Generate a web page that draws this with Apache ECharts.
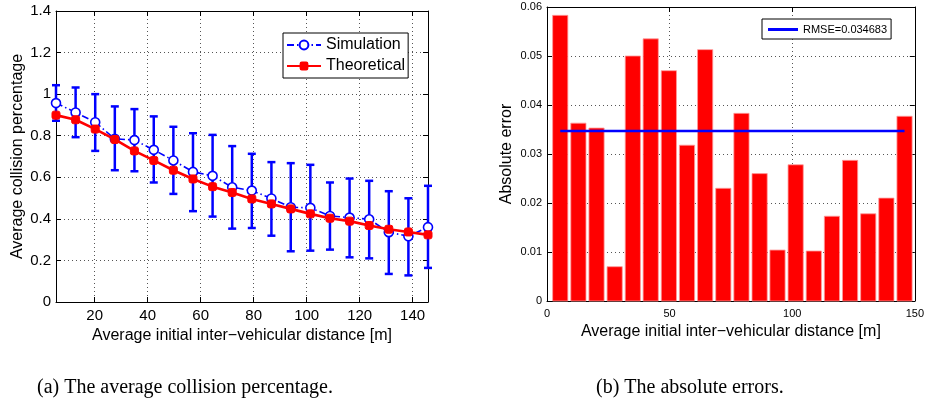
<!DOCTYPE html>
<html>
<head>
<meta charset="utf-8">
<script src="https://cdn.jsdelivr.net/npm/echarts@6/dist/echarts.min.js"></script>
<style>
html,body{margin:0;padding:0;background:#fff;}
#chart{width:927px;height:403px;}
</style>
</head>
<body>
<div id="chart"></div>
<script>
// ---- data ----
var distances = [5.4, 12.8, 20.2, 27.6, 35.0, 42.3, 49.7, 57.1, 64.5, 71.9, 79.3, 86.7, 94.0, 101.4, 108.8, 116.2, 123.6, 131.0, 138.4, 145.8];
var simMean = [0.957, 0.912, 0.865, 0.785, 0.779, 0.732, 0.681, 0.626, 0.607, 0.552, 0.536, 0.498, 0.456, 0.453, 0.414, 0.406, 0.398, 0.336, 0.316, 0.360];
var simUpper = [1.043, 1.032, 1.000, 0.941, 0.928, 0.893, 0.843, 0.812, 0.804, 0.750, 0.713, 0.673, 0.668, 0.660, 0.575, 0.594, 0.583, 0.533, 0.499, 0.559];
var simLower = [0.872, 0.793, 0.727, 0.634, 0.629, 0.575, 0.520, 0.437, 0.411, 0.353, 0.356, 0.319, 0.244, 0.247, 0.252, 0.215, 0.210, 0.135, 0.128, 0.164];
var theoretical = [0.899, 0.877, 0.832, 0.782, 0.727, 0.681, 0.634, 0.592, 0.555, 0.527, 0.496, 0.472, 0.448, 0.424, 0.403, 0.389, 0.368, 0.350, 0.337, 0.323];
var absError = [0.0583, 0.0363, 0.0353, 0.0070, 0.0500, 0.0535, 0.0470, 0.0318, 0.0513, 0.0230, 0.0383, 0.0260, 0.0104, 0.0278, 0.0102, 0.0173, 0.0287, 0.0178, 0.0210, 0.0377];
var rmse = 0.034683;
var leftXTicks = [20, 40, 60, 80, 100, 120, 140];
var captionA = '(a) The average collision percentage.';
var captionB = '(b) The absolute errors.';

// ---- build ----
var chart = echarts.init(document.getElementById('chart'), null, {renderer: 'canvas'});
var font = 'Liberation Sans, Arial, Helvetica, sans-serif';
var gridLine = {show: true, lineStyle: {type: [1, 3], color: '#555', width: 1}};

function pairs(xs, ys) { return xs.map(function (x, i) { return [x, ys[i]]; }); }

var errData = distances.map(function (x, i) { return [x, simLower[i], simUpper[i]]; });
var barData = pairs(distances, absError);
var barHalf = 3.1;
var xMin = distances[0], xMax = distances[distances.length - 1];

var option = {
  backgroundColor: '#fff',
  animation: false,
  grid: [
    {left: 56, right: 499, top: 11, bottom: 101},
    {left: 547, right: 9, top: 7, bottom: 102}
  ],
  xAxis: [
    {
      type: 'value', gridIndex: 0, min: xMin, max: xMax,
      axisLine: {show: true, onZero: false, lineStyle: {color: '#000', width: 1}},
      axisTick: {show: true, inside: true, length: 5, lineStyle: {color: '#000'}, customValues: leftXTicks},
      axisLabel: {color: '#000', fontFamily: font, fontSize: 15, margin: 6, customValues: leftXTicks},
      splitLine: gridLine,
      name: 'Average initial inter\u2212vehicular distance [m]', nameLocation: 'middle', nameGap: 21,
      nameTextStyle: {color: '#000', fontFamily: font, fontSize: 16}
    },
    {
      type: 'value', gridIndex: 1, min: 0, max: 150, interval: 50,
      axisLine: {show: true, onZero: false, lineStyle: {color: '#000', width: 1}},
      axisTick: {show: true, inside: true, length: 5, lineStyle: {color: '#000'}},
      axisLabel: {color: '#000', fontFamily: font, fontSize: 11, margin: 7},
      splitLine: gridLine,
      name: 'Average initial inter\u2212vehicular distance [m]', nameLocation: 'middle', nameGap: 16,
      nameTextStyle: {color: '#000', fontFamily: font, fontSize: 16}
    },
    {
      type: 'value', gridIndex: 0, position: 'top', min: xMin, max: xMax,
      axisLine: {show: true, onZero: false, lineStyle: {color: '#000', width: 1}},
      axisTick: {show: true, inside: true, length: 5, lineStyle: {color: '#000'}, customValues: leftXTicks},
      axisLabel: {show: false}, splitLine: {show: false}
    },
    {
      type: 'value', gridIndex: 1, position: 'top', min: 0, max: 150, interval: 50,
      axisLine: {show: true, onZero: false, lineStyle: {color: '#000', width: 1}},
      axisTick: {show: true, inside: true, length: 5, lineStyle: {color: '#000'}},
      axisLabel: {show: false}, splitLine: {show: false}
    }
  ],
  yAxis: [
    {
      type: 'value', gridIndex: 0, min: 0, max: 1.4, interval: 0.2,
      axisLine: {show: true, onZero: false, lineStyle: {color: '#000', width: 1}},
      axisTick: {show: true, inside: true, length: 5, lineStyle: {color: '#000'}},
      axisLabel: {color: '#000', fontFamily: font, fontSize: 15, margin: 5,
        formatter: function (v) { return String(Math.round(v * 10) / 10); }},
      splitLine: gridLine,
      name: 'Average collision percentage', nameLocation: 'middle', nameGap: 30, nameRotate: 90,
      nameTextStyle: {color: '#000', fontFamily: font, fontSize: 16}
    },
    {
      type: 'value', gridIndex: 1, min: 0, max: 0.06, interval: 0.01,
      axisLine: {show: true, onZero: false, lineStyle: {color: '#000', width: 1}},
      axisTick: {show: true, inside: true, length: 5, lineStyle: {color: '#000'}},
      axisLabel: {color: '#000', fontFamily: font, fontSize: 11, margin: 5,
        formatter: function (v) { return v === 0 ? '0' : v.toFixed(2); }},
      splitLine: gridLine,
      name: 'Absolute error', nameLocation: 'middle', nameGap: 32, nameRotate: 90,
      nameTextStyle: {color: '#000', fontFamily: font, fontSize: 16}
    },
    {
      type: 'value', gridIndex: 0, position: 'right', min: 0, max: 1.4, interval: 0.2,
      axisLine: {show: true, onZero: false, lineStyle: {color: '#000', width: 1}},
      axisTick: {show: true, inside: true, length: 5, lineStyle: {color: '#000'}},
      axisLabel: {show: false}, splitLine: {show: false}
    },
    {
      type: 'value', gridIndex: 1, position: 'right', min: 0, max: 0.06, interval: 0.01,
      axisLine: {show: true, onZero: false, lineStyle: {color: '#000', width: 1}},
      axisTick: {show: true, inside: true, length: 5, lineStyle: {color: '#000'}},
      axisLabel: {show: false}, splitLine: {show: false}
    }
  ],
  legend: [
    {
      data: ['Simulation', 'Theoretical'],
      left: 283, top: 33,
      orient: 'vertical', itemGap: 5, itemWidth: 34, itemHeight: 11,
      padding: [4, 3, 4, 3],
      borderColor: '#000', borderWidth: 1, backgroundColor: '#fff',
      textStyle: {color: '#000', fontFamily: font, fontSize: 16}
    },
    {
      data: [{name: 'RMSE=0.034683', icon: 'rect'}],
      left: 762, top: 19,
      itemWidth: 30, itemHeight: 3, itemGap: 4,
      padding: [5, 4, 4, 6],
      borderColor: '#000', borderWidth: 1, backgroundColor: '#fff',
      textStyle: {color: '#000', fontFamily: font, fontSize: 11}
    }
  ],
  series: [
    {
      type: 'custom', name: 'errbar', xAxisIndex: 0, yAxisIndex: 0, z: 2,
      data: errData,
      renderItem: function (params, api) {
        var x = api.value(0);
        var lo = api.coord([x, api.value(1)]);
        var hi = api.coord([x, api.value(2)]);
        var cw = 4;
        var st = {stroke: '#0000ff', lineWidth: 2.5};
        return {
          type: 'group',
          children: [
            {type: 'line', shape: {x1: lo[0], y1: lo[1], x2: hi[0], y2: hi[1]}, style: st},
            {type: 'line', shape: {x1: lo[0] - cw, y1: lo[1], x2: lo[0] + cw, y2: lo[1]}, style: st},
            {type: 'line', shape: {x1: hi[0] - cw, y1: hi[1], x2: hi[0] + cw, y2: hi[1]}, style: st}
          ]
        };
      }
    },
    {
      type: 'line', name: 'Simulation', xAxisIndex: 0, yAxisIndex: 0, z: 3,
      data: pairs(distances, simMean),
      symbol: 'circle', symbolSize: 9, showAllSymbol: true,
      lineStyle: {color: '#0000ff', width: 1.6, type: [7, 3, 1.5, 3]},
      itemStyle: {color: '#fff', borderColor: '#0000ff', borderWidth: 1.6}
    },
    {
      type: 'line', name: 'Theoretical', xAxisIndex: 0, yAxisIndex: 0, z: 4,
      data: pairs(distances, theoretical),
      symbol: 'roundRect', symbolSize: 8, showAllSymbol: true,
      lineStyle: {color: '#ff0000', width: 2.6},
      itemStyle: {color: '#ff0000', borderColor: '#ff0000'}
    },
    {
      type: 'custom', name: 'Absolute error', xAxisIndex: 1, yAxisIndex: 1, z: 2,
      data: barData,
      renderItem: function (params, api) {
        var x = api.value(0);
        var p0 = api.coord([x - barHalf, api.value(1)]);
        var p1 = api.coord([x + barHalf, 0]);
        return {
          type: 'rect',
          shape: {x: p0[0], y: p0[1], width: p1[0] - p0[0], height: p1[1] - p0[1]},
          style: {fill: '#ff0000', stroke: '#ff9a9a', lineWidth: 0.8}
        };
      }
    },
    {
      type: 'line', name: 'RMSE=0.034683', xAxisIndex: 1, yAxisIndex: 1, z: 5,
      data: [[xMin, rmse], [xMax, rmse]],
      symbol: 'none',
      lineStyle: {color: '#0000ff', width: 2.6},
      itemStyle: {color: '#0000ff'}
    }
  ],
  graphic: [
    {type: 'text', left: 37, top: 378, style: {text: captionA, fill: '#000', font: '20px "Liberation Serif", "DejaVu Serif", serif'}},
    {type: 'text', left: 596, top: 378, style: {text: captionB, fill: '#000', font: '20px "Liberation Serif", "DejaVu Serif", serif'}}
  ]
};
chart.setOption(option);
</script>
</body>
</html>
